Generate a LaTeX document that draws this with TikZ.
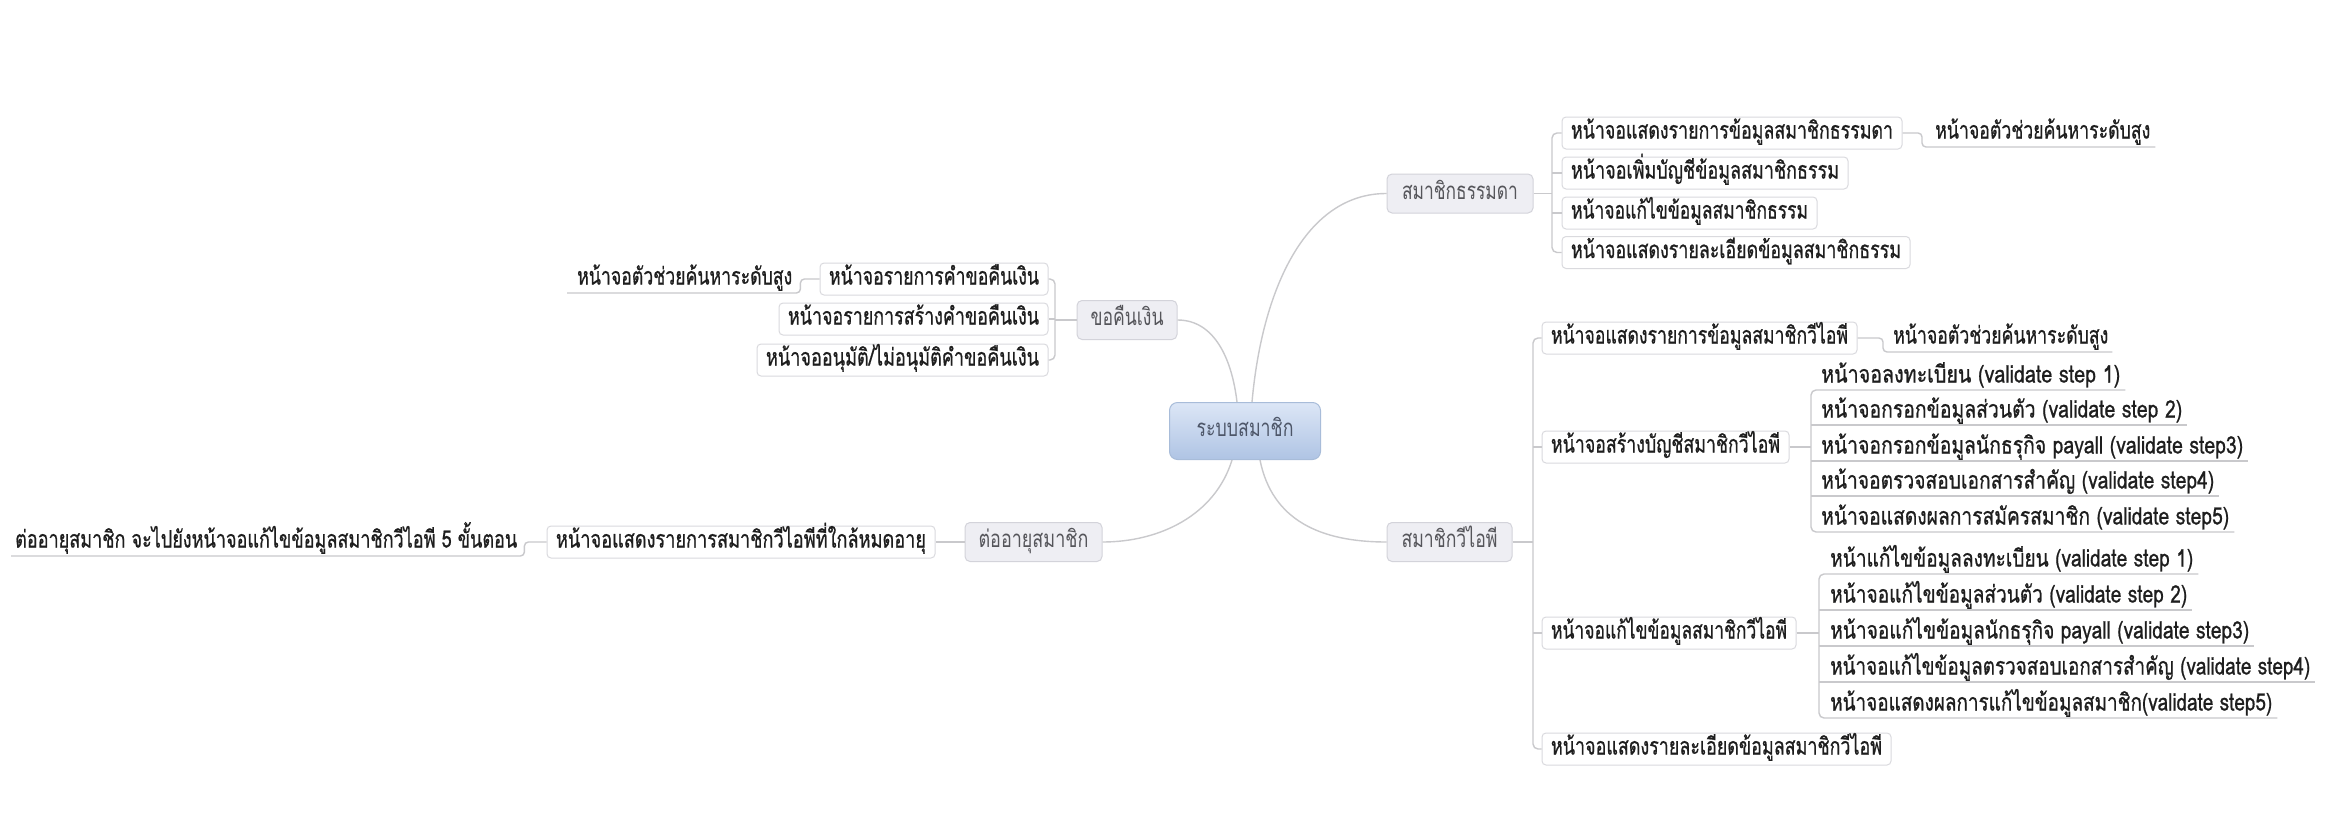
\documentclass[tikz,border=0pt]{standalone}
\usepackage{fontspec}
\newfontfamily\thai[Script=Thai]{Loma}
\newfontfamily\thaib[Script=Thai, FakeBold=0.9]{Loma}
\usetikzlibrary{calc}
\definecolor{conncol}{HTML}{C9C9CC}
\definecolor{boxline}{HTML}{DADADE}
\definecolor{lvlfill}{HTML}{EEEEF3}
\definecolor{lvlline}{HTML}{D3D3DA}
\definecolor{lvltext}{HTML}{55555A}
\definecolor{txt}{HTML}{1E1E1E}
\definecolor{ctop}{HTML}{DCE6F6}
\definecolor{cbot}{HTML}{AFC4E4}
\definecolor{cline}{HTML}{A8BCD9}
\definecolor{ctext}{HTML}{4D5668}
\newsavebox\fwbox
\newlength\fwlen
\newcommand\fw[2]{\sbox\fwbox{#2}\setlength\fwlen{\wd\fwbox}\pgfmathsetmacro\fwr{#1/\fwlen}\scalebox{\fwr}[1]{\usebox\fwbox}}
\tikzset{
  every node/.style={font=\thai\fontsize{24}{28}\selectfont, text height=14pt, text depth=3pt, inner sep=0pt},
  conn/.style={draw=conncol, line width=1.4pt},
  root/.style={rounded corners=8pt, draw=cline, line width=1pt, top color=ctop, bottom color=cbot, text=ctext},
  lvl/.style={rounded corners=5pt, draw=lvlline, fill=lvlfill, line width=1pt, text=lvltext, minimum height=39pt},
  sub/.style={rounded corners=4pt, draw=boxline, fill=white, line width=1pt, text=txt, minimum height=32pt, font=\thaib\fontsize{24}{28}\selectfont},
  ul/.style={anchor=west, text=txt, font=\thaib\fontsize{24}{28}\selectfont},
}
\begin{document}
\begin{tikzpicture}[x=1pt,y=-1pt]
\useasboundingbox (0,0) rectangle (2349,816);
\fill[white] (0,0) rectangle (2349,816);

% root
\node[root, minimum width=151pt, minimum height=57pt] (C) at (1245,431) {\fw{97}{ระบบสมาชิก}};

% level 1
\node[lvl, minimum width=146pt] (M) at (1460,193.5) {\fw{116}{สมาชิกธรรมดา}};
\node[lvl, minimum width=100pt] (K) at (1127,320) {\fw{73}{ขอคืนเงิน}};
\node[lvl, minimum width=125pt] (V) at (1449.5,542) {\fw{96}{สมาชิกวีไอพี}};
\node[lvl, minimum width=137pt] (R) at (1033.5,542) {\fw{110}{ต่ออายุสมาชิก}};

% สมาชิกธรรมดา children
\node[sub, minimum width=340pt] (A1) at (1732,133) {\fw{322}{หน้าจอแสดงรายการข้อมูลสมาชิกธรรมดา}};
\node[sub, minimum width=286pt] (A2) at (1705,173) {\fw{268}{หน้าจอเพิ่มบัญชีข้อมูลสมาชิกธรรม}};
\node[sub, minimum width=255pt] (A3) at (1689.5,213) {\fw{237}{หน้าจอแก้ไขข้อมูลสมาชิกธรรม}};
\node[sub, minimum width=348pt] (A4) at (1736,252.5) {\fw{330}{หน้าจอแสดงรายละเอียดข้อมูลสมาชิกธรรม}};
\node[ul] (A1c) at (1935,133) {\fw{215}{หน้าจอตัวช่วยค้นหาระดับสูง}};

% ขอคืนเงิน children
\node[sub, minimum width=228pt] (B1) at (934,279) {\fw{210}{หน้าจอรายการคำขอคืนเงิน}};
\node[sub, minimum width=269pt] (B2) at (913.5,319) {\fw{251}{หน้าจอรายการสร้างคำขอคืนเงิน}};
\node[sub, minimum width=291pt] (B3) at (902.5,360) {\fw{273}{หน้าจออนุมัติ/ไม่อนุมัติคำขอคืนเงิน}};
\node[ul] (B1c) at (577,279) {\fw{215}{หน้าจอตัวช่วยค้นหาระดับสูง}};

% ต่ออายุสมาชิก children
\node[sub, minimum width=388pt] (C1) at (741,542) {\fw{370}{หน้าจอแสดงรายการสมาชิกวีไอพีที่ใกล้หมดอายุ}};
\node[ul] (C1c) at (15,542) {\fw{502}{ต่ออายุสมาชิก จะไปยังหน้าจอแก้ไขข้อมูลสมาชิกวีไอพี 5 ขั้นตอน}};

% สมาชิกวีไอพี children
\node[sub, minimum width=315pt] (D1) at (1699.5,338) {\fw{297}{หน้าจอแสดงรายการข้อมูลสมาชิกวีไอพี}};
\node[sub, minimum width=247pt] (D2) at (1665.5,447) {\fw{229}{หน้าจอสร้างบัญชีสมาชิกวีไอพี}};
\node[sub, minimum width=254pt] (D3) at (1669,633) {\fw{236}{หน้าจอแก้ไขข้อมูลสมาชิกวีไอพี}};
\node[sub, minimum width=349pt] (D4) at (1716.5,749) {\fw{331}{หน้าจอแสดงรายละเอียดข้อมูลสมาชิกวีไอพี}};
\node[ul] (D1c) at (1893,338) {\fw{215}{หน้าจอตัวช่วยค้นหาระดับสูง}};

\node[ul] (s1) at (1821,377) {\fw{299}{หน้าจอลงทะเบียน (validate step 1)}};
\node[ul] (s2) at (1821,412) {\fw{361}{หน้าจอกรอกข้อมูลส่วนตัว (validate step 2)}};
\node[ul] (s3) at (1821,448) {\fw{422}{หน้าจอกรอกข้อมูลนักธรุกิจ payall (validate step3)}};
\node[ul] (s4) at (1821,483) {\fw{393}{หน้าจอตรวจสอบเอกสารสำคัญ (validate step4)}};
\node[ul] (s5) at (1821,519) {\fw{408}{หน้าจอแสดงผลการสมัครสมาชิก (validate step5)}};

\node[ul] (e1) at (1830,561) {\fw{363}{หน้าแก้ไขข้อมูลลงทะเบียน (validate step 1)}};
\node[ul] (e2) at (1830,597) {\fw{357}{หน้าจอแก้ไขข้อมูลส่วนตัว (validate step 2)}};
\node[ul] (e3) at (1830,633) {\fw{419}{หน้าจอแก้ไขข้อมูลนักธรุกิจ payall (validate step3)}};
\node[ul] (e4) at (1830,669) {\fw{480}{หน้าจอแก้ไขข้อมูลตรวจสอบเอกสารสำคัญ (validate step4)}};
\node[ul] (e5) at (1830,705) {\fw{442}{หน้าจอแสดงผลการแก้ไขข้อมูลสมาชิก(validate step5)}};

% root connectors
\draw[conn] ($(C.north)+(7,0)$) .. controls (1262,290) and (1305,193.5) .. (M.west);
\draw[conn] ($(C.north)+(-8,0)$) .. controls (1232,360) and (1215,320) .. (K.east);
\draw[conn] ($(C.south)+(15,0)$) .. controls (1272,520) and (1320,542) .. (V.west);
\draw[conn] ($(C.south)+(-13,0)$) .. controls (1215,515) and (1160,542) .. (R.east);

% สมาชิกธรรมดา bus
\coordinate (Mb) at (1552,193.5);
\draw[conn] (M.east) -- (Mb);
\draw[conn, rounded corners=5pt] (A1.west) -| (Mb) |- (A4.west);
\draw[conn] (Mb |- A2.west) -- (A2.west);
\draw[conn] (Mb |- A3.west) -- (A3.west);
\draw[conn, rounded corners=4pt] (A1.east) -| ($(A1c.west)+(-13,14)$) -- ($(A1c.east)+(5,14)$);

% ขอคืนเงิน bus
\coordinate (Kb) at (1055,320);
\draw[conn] (K.west) -- (Kb);
\draw[conn, rounded corners=5pt] (B1.east) -| (Kb) |- (B3.east);
\draw[conn] (Kb |- B2.east) -- (B2.east);
\draw[conn, rounded corners=4pt] (B1.west) -| ($(B1c.east)+(8,14)$) -- ($(B1c.west)+(-10,14)$);

% ต่ออายุสมาชิก
\draw[conn] (R.west) -- (C1.east);
\draw[conn, rounded corners=4pt] (C1.west) -| ($(C1c.east)+(7,14)$) -- ($(C1c.west)+(-4,14)$);

% สมาชิกวีไอพี bus
\coordinate (Vb) at (1533,542);
\draw[conn] (V.east) -- (Vb);
\draw[conn, rounded corners=5pt] (D1.west) -| (Vb) |- (D4.west);
\draw[conn] (Vb |- D2.west) -- (D2.west);
\draw[conn] (Vb |- D3.west) -- (D3.west);
\draw[conn, rounded corners=4pt] (D1.east) -| ($(D1c.west)+(-10,14)$) -- ($(D1c.east)+(4,14)$);

% create-account steps
\coordinate (Sb) at (1811,447);
\draw[conn] (D2.east) -- (Sb);
\foreach \n in {1,...,5} {\coordinate (s\n u) at ($(s\n.east)+(5,13)$);}
\draw[conn, rounded corners=5pt] (s1u) -| (Sb) |- (s5u);
\draw[conn] (Sb |- s2u) -- (s2u);
\draw[conn] (Sb |- s3u) -- (s3u);
\draw[conn] (Sb |- s4u) -- (s4u);

% edit steps
\coordinate (Eb) at (1819,633);
\draw[conn] (D3.east) -- (Eb);
\foreach \n in {1,...,5} {\coordinate (e\n u) at ($(e\n.east)+(5,13)$);}
\draw[conn, rounded corners=5pt] (e1u) -| (Eb) |- (e5u);
\draw[conn] (Eb |- e2u) -- (e2u);
\draw[conn] (Eb |- e3u) -- (e3u);
\draw[conn] (Eb |- e4u) -- (e4u);
\end{tikzpicture}
\end{document}
